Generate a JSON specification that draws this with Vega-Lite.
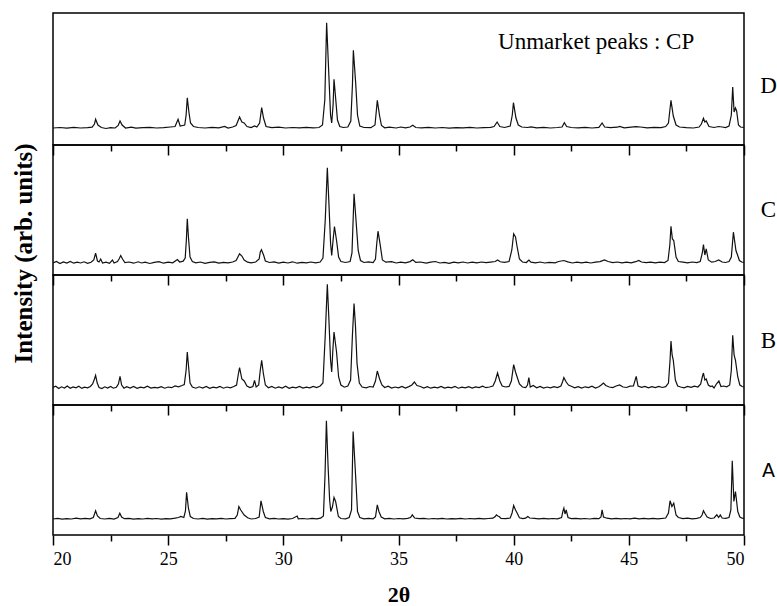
{
"$schema": "https://vega.github.io/schema/vega-lite/v6.json",
"background": "white",
"padding": {"left": 10, "top": 12, "right": 2, "bottom": 0},
"bounds": "flush",
"spacing": 0,
"config": {"view": {"stroke": "black", "strokeWidth": 1.5}, "axis": {"labelFont": "Liberation Serif", "titleFont": "Liberation Serif", "labelColor": "black", "titleColor": "black", "tickColor": "black", "grid": false, "domain": false}},
"datasets": {
"D": [[20.0,17],[20.3,17.5],[20.6,16.8],[20.9,17.6],[21.2,17],[21.5,17.4],[21.7,17.8],[21.8,21],[21.85,25.7],[21.95,20],[22.1,17.5],[22.3,16.5],[22.5,17.3],[22.7,17],[22.83,19.5],[22.91,24],[23.0,20],[23.15,17],[23.4,17.8],[23.6,16.8],[23.9,17.3],[24.2,17.6],[24.5,17],[24.8,17.4],[25.1,18],[25.3,18.5],[25.43,25.7],[25.52,19],[25.72,20],[25.78,30],[25.83,47.3],[25.9,33],[25.97,22],[26.1,18.5],[26.3,17.5],[26.6,17],[26.9,17.6],[27.2,17.1],[27.45,18.5],[27.6,17],[27.8,18],[27.95,19.5],[28.1,28],[28.2,23],[28.3,22],[28.42,18.5],[28.6,17.5],[28.75,19],[28.85,18],[28.97,22],[29.06,37.3],[29.14,27],[29.25,18.5],[29.5,17.3],[29.8,17.8],[30.1,17],[30.4,17.5],[30.7,17.1],[31.0,17.6],[31.3,17.2],[31.55,17.5],[31.7,20],[31.8,45],[31.88,122.3],[31.95,84],[32.05,30],[32.1,22],[32.16,40],[32.2,65.7],[32.27,47],[32.35,25],[32.45,18.5],[32.6,17.5],[32.8,18],[32.93,24],[33.0,60],[33.04,94.7],[33.14,62.3],[33.22,30],[33.32,19],[33.5,17.5],[33.8,17.3],[33.98,20],[34.08,44.7],[34.18,29],[34.26,19.5],[34.4,17.2],[34.6,17.8],[34.9,17],[35.1,18],[35.3,17.2],[35.5,18],[35.62,19.7],[35.75,17.5],[36.0,17.2],[36.3,17.6],[36.6,17],[36.9,17.5],[37.2,16.9],[37.5,17.4],[37.8,17.1],[38.1,17.6],[38.4,17],[38.7,17.3],[39.0,17.6],[39.15,18.5],[39.28,23],[39.4,18.5],[39.6,17.5],[39.85,19],[39.94,30],[39.99,42.3],[40.1,27],[40.2,20],[40.35,18],[40.6,17.5],[40.75,18.2],[41.0,17.2],[41.3,17.6],[41.6,17],[41.9,17.5],[42.1,18],[42.2,22.3],[42.3,18.5],[42.5,17.5],[42.8,17.2],[43.1,17.6],[43.4,17],[43.7,17.6],[43.84,22],[43.95,18],[44.2,17.4],[44.5,17.8],[44.6,18.5],[44.8,17.2],[45.0,17.6],[45.3,18.3],[45.5,18],[45.8,17.2],[46.1,17.6],[46.4,17.3],[46.6,18.5],[46.72,22],[46.83,44.7],[46.93,29],[47.05,20],[47.2,18],[47.5,17.4],[47.8,17],[48.05,18],[48.15,21],[48.24,26.7],[48.3,23],[48.36,24],[48.48,18.5],[48.7,17.5],[48.9,18.5],[49.05,18],[49.2,17.4],[49.35,19],[49.45,30],[49.51,58],[49.57,33],[49.63,37],[49.68,34],[49.76,20],[49.85,18],[50.0,17.5]],
"C": [[20.0,12],[20.15,13.5],[20.3,11.5],[20.45,13],[20.6,12],[20.75,13.5],[20.9,11.8],[21.05,12.8],[21.2,12],[21.35,13.2],[21.5,11.6],[21.65,12.8],[21.77,15],[21.85,21.8],[21.93,14],[22.0,13],[22.07,16],[22.15,12],[22.3,12.8],[22.45,11.7],[22.58,15],[22.65,12],[22.8,13.5],[22.88,16.5],[22.94,19.5],[23.02,16],[23.12,12.5],[23.3,13],[23.5,11.8],[23.7,13.2],[23.85,12],[24.0,12.8],[24.2,11.5],[24.4,12.6],[24.6,13.3],[24.8,11.8],[25.0,12.9],[25.2,12.2],[25.4,15.5],[25.5,13],[25.65,13.8],[25.74,17],[25.79,35],[25.83,56.2],[25.88,38],[25.95,18],[26.05,13.5],[26.2,12.2],[26.4,13],[26.6,11.7],[26.8,12.6],[27.0,13.2],[27.2,11.9],[27.4,12.6],[27.6,12.2],[27.8,13],[27.95,14.5],[28.05,19],[28.1,21.2],[28.2,19],[28.3,15],[28.45,12.8],[28.6,12.2],[28.8,13],[28.95,16],[29.0,23],[29.05,25.2],[29.15,19.5],[29.22,14],[29.4,12.5],[29.6,13.1],[29.8,11.9],[30.0,12.8],[30.2,12],[30.4,13.2],[30.6,11.8],[30.8,12.7],[31.0,12.1],[31.2,13],[31.4,12.2],[31.6,13],[31.72,17],[31.82,55],[31.91,107.2],[31.98,71.2],[32.05,32],[32.1,19.5],[32.16,35],[32.22,48.5],[32.31,34.5],[32.4,18],[32.5,13.5],[32.7,12.5],[32.9,13.5],[32.98,22],[33.03,55],[33.07,81.2],[33.14,59.5],[33.25,24.5],[33.35,14.5],[33.5,12.5],[33.7,13.2],[33.9,12.5],[34.0,16],[34.05,30],[34.11,43.8],[34.2,31.2],[34.3,15],[34.45,12.8],[34.7,13.3],[34.9,12],[35.1,12.8],[35.3,12.2],[35.5,13.4],[35.62,15.2],[35.75,12.6],[35.95,13],[36.2,11.8],[36.4,12.8],[36.6,13.5],[36.8,12],[37.0,12.6],[37.2,11.6],[37.4,12.9],[37.6,12.2],[37.8,13],[38.0,12],[38.2,12.8],[38.4,12.1],[38.6,13],[38.8,12.4],[39.0,12.9],[39.2,13.5],[39.3,15],[39.42,13.2],[39.6,12.6],[39.8,13.5],[39.92,25],[40.0,41.2],[40.08,38],[40.14,29.5],[40.25,16],[40.38,13],[40.55,12.5],[40.66,15],[40.75,12.8],[40.95,12.2],[41.15,13],[41.35,12],[41.55,12.7],[41.8,12.2],[41.95,13.5],[42.18,14.5],[42.35,13.2],[42.55,12],[42.75,12.9],[42.95,12.1],[43.15,12.8],[43.35,12],[43.55,12.9],[43.75,13.4],[43.94,15],[44.1,13.5],[44.3,12.4],[44.5,13],[44.7,12.2],[44.9,12.8],[45.1,12.1],[45.3,13.3],[45.43,14.5],[45.55,13],[45.75,12.3],[45.95,12.9],[46.15,12.1],[46.35,12.8],[46.55,12.4],[46.7,14.5],[46.78,30],[46.83,48.8],[46.89,36],[46.95,34.5],[47.05,18],[47.15,13.5],[47.35,12.8],[47.55,12.2],[47.75,13],[47.95,12.4],[48.1,13.5],[48.19,22],[48.24,30.5],[48.3,20],[48.36,26.2],[48.45,15],[48.6,12.8],[48.75,13.5],[48.9,15],[49.05,13],[49.2,12.5],[49.35,13.5],[49.45,18],[49.54,42.8],[49.6,33],[49.65,24.5],[49.72,20],[49.8,14.5],[49.9,13],[50.0,12.6]],
"B": [[20.0,17.5],[20.12,18.8],[20.25,16.5],[20.37,18.2],[20.5,17],[20.62,19],[20.75,16.8],[20.87,18],[21.0,17.2],[21.12,18.7],[21.25,16.6],[21.37,17.9],[21.5,17.2],[21.62,18.5],[21.72,21],[21.8,26],[21.85,29.7],[21.92,22],[22.0,17.5],[22.12,16.5],[22.25,18.2],[22.37,17],[22.5,18.6],[22.62,16.8],[22.75,17.8],[22.84,21],[22.91,28.7],[22.98,20],[23.08,16.8],[23.2,18.3],[23.35,17],[23.5,18.5],[23.65,16.7],[23.8,17.9],[23.95,17.2],[24.1,18.8],[24.25,16.9],[24.4,17.7],[24.55,17.1],[24.7,18.4],[24.85,16.8],[25.0,18],[25.15,17.3],[25.3,19],[25.45,18.2],[25.6,19.5],[25.7,20.5],[25.78,35],[25.83,53],[25.88,40],[25.95,22],[26.05,18],[26.2,16.8],[26.35,18.2],[26.5,17],[26.65,18.6],[26.8,16.7],[26.95,17.9],[27.1,17.1],[27.25,18.5],[27.4,16.8],[27.55,18],[27.7,17.2],[27.85,18.5],[27.97,20],[28.04,30],[28.1,37.4],[28.2,26],[28.3,24],[28.42,19],[28.55,17.5],[28.68,18.5],[28.75,24.7],[28.82,18],[28.93,20],[29.0,35],[29.06,44.7],[29.13,32],[29.22,20],[29.35,17.2],[29.5,18.6],[29.65,16.8],[29.8,18],[29.95,17],[30.1,18.7],[30.25,16.7],[30.4,17.9],[30.55,17.2],[30.7,18.5],[30.85,16.9],[31.0,17.8],[31.15,17.1],[31.3,18.6],[31.45,17.5],[31.6,19],[31.72,22],[31.82,70],[31.91,120.7],[31.98,84.7],[32.05,45],[32.1,33],[32.15,55],[32.2,73],[32.31,53],[32.4,28],[32.5,20],[32.65,17.8],[32.8,19],[32.92,25],[33.0,70],[33.07,101.4],[33.13,80],[33.2,41.4],[33.3,22],[33.42,18],[33.6,17.2],[33.75,18.5],[33.9,18],[34.0,24],[34.08,34],[34.18,26],[34.28,20],[34.4,17.5],[34.55,18.8],[34.7,16.9],[34.85,18],[35.0,17.2],[35.15,18.6],[35.3,17],[35.45,18.4],[35.58,20],[35.69,23],[35.8,19.5],[35.95,18.5],[36.1,17],[36.25,18.3],[36.4,16.8],[36.55,17.8],[36.7,17.1],[36.85,18.6],[37.0,16.9],[37.15,17.8],[37.3,17.2],[37.45,18.5],[37.6,16.8],[37.75,17.9],[37.9,17.2],[38.05,18.4],[38.2,17],[38.35,18.1],[38.5,17.4],[38.65,18.8],[38.8,17.3],[38.95,18],[39.1,19],[39.2,24],[39.3,32],[39.4,24],[39.5,19],[39.65,18],[39.8,18.6],[39.9,24],[40.0,40.4],[40.08,33],[40.14,28.7],[40.25,21],[40.38,18],[40.52,17.5],[40.6,20],[40.66,27.4],[40.72,18],[40.85,19.5],[41.0,17.2],[41.15,18.5],[41.3,17],[41.45,18],[41.6,17.2],[41.75,18.3],[41.9,17.5],[42.05,19],[42.12,23],[42.18,27.4],[42.28,23],[42.38,20],[42.5,18.8],[42.65,17.2],[42.8,18.4],[42.95,17],[43.1,18.2],[43.25,17.4],[43.4,18.8],[43.55,17],[43.7,18.2],[43.8,20],[43.9,22],[44.0,19.5],[44.15,18],[44.3,17.4],[44.45,19],[44.6,20],[44.75,18],[44.9,17.5],[45.05,18.8],[45.2,19],[45.32,28.7],[45.4,19],[45.55,17.6],[45.7,18.5],[45.85,17.2],[46.0,18.3],[46.15,17.4],[46.3,18.6],[46.45,17.5],[46.6,18.3],[46.72,22],[46.79,45],[46.83,64],[46.88,50],[46.93,44.7],[47.02,25],[47.12,19],[47.25,18],[47.4,17.2],[47.55,18.5],[47.7,17.6],[47.85,18.8],[48.0,18],[48.12,21],[48.2,29],[48.24,32],[48.3,25],[48.36,26],[48.45,20],[48.55,18.5],[48.62,19],[48.7,17],[48.8,21],[48.91,24],[49.0,18.5],[49.12,19],[49.25,18.2],[49.38,20],[49.45,35],[49.51,69.7],[49.57,50],[49.63,44.7],[49.73,28],[49.82,20],[49.92,18.5],[50.0,18]],
"A": [[20.0,16],[20.2,16.6],[20.4,15.8],[20.6,16.4],[20.8,16],[21.0,16.8],[21.2,16.2],[21.4,16.6],[21.6,16.1],[21.75,17.5],[21.85,24.2],[21.93,19],[22.05,16.5],[22.25,16],[22.45,16.6],[22.65,15.9],[22.82,17.5],[22.9,21.8],[22.98,18],[23.1,16.3],[23.3,16.7],[23.5,15.9],[23.7,16.4],[23.9,16],[24.1,16.6],[24.3,16.1],[24.5,16.5],[24.7,15.9],[24.9,16.4],[25.1,16.2],[25.3,16.8],[25.45,17.5],[25.55,18.5],[25.68,17.5],[25.75,24],[25.8,42.8],[25.88,26.8],[25.96,18.5],[26.1,16.5],[26.3,16],[26.5,16.6],[26.7,15.9],[26.9,16.4],[27.1,16.1],[27.3,16.7],[27.5,16],[27.7,16.4],[27.9,16.6],[28.0,20],[28.07,28.5],[28.15,25],[28.3,20],[28.45,17.2],[28.6,16],[28.8,16.5],[28.95,18],[29.03,34.2],[29.13,23.5],[29.22,17.5],[29.4,16.2],[29.6,16.7],[29.8,16],[30.0,16.4],[30.2,15.9],[30.4,16.5],[30.6,19],[30.65,16.2],[30.85,16.5],[31.05,16],[31.25,16.6],[31.45,16.2],[31.62,16.8],[31.74,19],[31.81,60],[31.87,114.2],[31.94,70.2],[32.01,35],[32.06,23.5],[32.13,28],[32.2,37.5],[32.27,33.5],[32.39,18.5],[32.5,16.5],[32.7,16.2],[32.86,17.5],[32.96,25],[33.03,103.5],[33.12,66.8],[33.22,23.5],[33.32,17.5],[33.5,16.2],[33.7,16.6],[33.9,16.2],[34.0,18],[34.08,30.2],[34.15,23.5],[34.25,18],[34.4,16.2],[34.6,16.6],[34.8,16],[35.0,16.5],[35.2,16.1],[35.4,16.6],[35.52,17.5],[35.6,20.2],[35.7,17],[35.9,16.3],[36.1,16.6],[36.3,16],[36.5,16.5],[36.7,16.1],[36.9,16.6],[37.1,16],[37.3,16.4],[37.5,16.2],[37.7,16.7],[37.9,16],[38.1,16.5],[38.3,16.2],[38.5,16.7],[38.7,16.1],[38.9,16.5],[39.1,16.8],[39.2,18.5],[39.25,20.2],[39.31,19],[39.37,18.5],[39.45,16.6],[39.65,16.3],[39.85,17],[39.93,22],[40.0,29.5],[40.08,25],[40.15,22],[40.25,17.2],[40.4,16.4],[40.52,16.8],[40.61,18.5],[40.7,17],[40.9,16.6],[41.1,16.2],[41.3,16.6],[41.5,16.1],[41.7,16.5],[41.9,16.2],[42.08,17.5],[42.14,24],[42.18,26.8],[42.23,21],[42.28,25.2],[42.36,17.5],[42.5,16.4],[42.7,16.7],[42.9,16.1],[43.1,16.5],[43.3,16],[43.5,16.6],[43.7,16.3],[43.79,18],[43.84,25.2],[43.9,18],[44.05,16.8],[44.25,16.2],[44.45,16.6],[44.65,16.1],[44.85,16.5],[45.05,16.2],[45.25,16.8],[45.45,16.1],[45.65,16.6],[45.85,16.2],[46.05,16.7],[46.25,16.2],[46.45,16.6],[46.6,17],[46.72,22],[46.79,34.2],[46.87,28.5],[46.95,31.8],[47.05,20],[47.15,17.5],[47.35,16.4],[47.55,16.8],[47.75,16.2],[47.95,16.6],[48.1,17.5],[48.18,20],[48.24,24.2],[48.3,21.8],[48.4,18],[48.55,16.5],[48.7,17],[48.82,20.2],[48.9,17.5],[48.97,20],[49.05,17],[49.2,16.6],[49.35,17.5],[49.43,25],[49.49,74.2],[49.56,33.5],[49.63,43.5],[49.73,23.5],[49.82,18],[49.92,16.8],[50.0,16.5]],
"note": [{"t": 43.58, "i": 96.3, "txt": "Unmarket peaks : CP"}]
},
"vconcat": [
{
"width": 691, "height": 132,
"layer": [
{
"data": {"name": "D"},
"transform": [{"calculate": "datum[0]", "as": "t"}, {"calculate": "datum[1]", "as": "i"}],
"mark": {"type": "line", "color": "#111", "strokeWidth": 1.2, "clip": true},
"encoding": {
"x": {"field": "t", "type": "quantitative", "scale": {"domain": [20, 50], "nice": false, "zero": false},
"axis": {"values": [20, 25, 30, 35, 40, 45, 50], "labels": false, "title": null, "tickWidth": 1.5, "tickSize": 10}},
"y": {"field": "i", "type": "quantitative", "scale": {"domain": [0, 132], "nice": false, "zero": false},
"axis": {"orient": "right", "labels": false, "ticks": false, "title": "D", "titleAngle": 0, "titleAlign": "center", "titleBaseline": "middle", "titleX": 24, "titleY": 72, "titleFontSize": 23, "titleFontWeight": "normal"}}
}
},
{
"data": {"name": "D"},
"transform": [{"calculate": "datum[0]", "as": "t"}, {"calculate": "datum[1]", "as": "i"}],
"mark": {"type": "line", "opacity": 0},
"encoding": {
"x": {"field": "t", "type": "quantitative", "axis": {"values": [22.5, 27.5, 32.5, 37.5, 42.5, 47.5], "labels": false, "title": null, "tickWidth": 1.5, "tickSize": 6, "orient": "bottom"}},
"y": {"field": "i", "type": "quantitative", "axis": null}
}
},
{
"data": {"name": "note"},
"mark": {"type": "text", "font": "Liberation Serif", "fontSize": 23, "align": "center", "baseline": "alphabetic", "color": "black"},
"encoding": {
"x": {"field": "t", "type": "quantitative", "axis": null},
"y": {"field": "i", "type": "quantitative", "axis": null},
"text": {"field": "txt"}
}
}
],
"resolve": {"axis": {"x": "independent", "y": "independent"}}
},
{
"width": 691, "height": 130,
"data": {"name": "C"},
"transform": [{"calculate": "datum[0]", "as": "t"}, {"calculate": "datum[1]", "as": "i"}],
"layer": [
{
"mark": {"type": "line", "color": "#111", "strokeWidth": 1.2, "clip": true},
"encoding": {
"x": {"field": "t", "type": "quantitative", "scale": {"domain": [20, 50], "nice": false, "zero": false},
"axis": {"values": [20, 25, 30, 35, 40, 45, 50], "labels": false, "title": null, "tickWidth": 1.5, "tickSize": 10}},
"y": {"field": "i", "type": "quantitative", "scale": {"domain": [0, 130], "nice": false, "zero": false},
"axis": {"orient": "right", "labels": false, "ticks": false, "title": "C", "titleAngle": 0, "titleAlign": "center", "titleBaseline": "middle", "titleX": 24, "titleY": 64, "titleFontSize": 23, "titleFontWeight": "normal"}}
}
},
{
"mark": {"type": "line", "opacity": 0},
"encoding": {
"x": {"field": "t", "type": "quantitative", "axis": {"values": [22.5, 27.5, 32.5, 37.5, 42.5, 47.5], "labels": false, "title": null, "tickWidth": 1.5, "tickSize": 6, "orient": "bottom"}},
"y": {"field": "i", "type": "quantitative",
"axis": {"orient": "left", "labels": false, "ticks": false, "title": "Intensity (arb. units)", "titleAngle": -90, "titleAlign": "center", "titleBaseline": "middle", "titleX": -30, "titleY": 108, "titleFontSize": 25, "titleFontWeight": "bold"}}
}
}
],
"resolve": {"axis": {"x": "independent", "y": "independent"}}
},
{
"width": 691, "height": 130,
"data": {"name": "B"},
"transform": [{"calculate": "datum[0]", "as": "t"}, {"calculate": "datum[1]", "as": "i"}],
"layer": [
{
"mark": {"type": "line", "color": "#111", "strokeWidth": 1.2, "clip": true},
"encoding": {
"x": {"field": "t", "type": "quantitative", "scale": {"domain": [20, 50], "nice": false, "zero": false},
"axis": {"values": [20, 25, 30, 35, 40, 45, 50], "labels": false, "title": null, "tickWidth": 1.5, "tickSize": 10}},
"y": {"field": "i", "type": "quantitative", "scale": {"domain": [0, 130], "nice": false, "zero": false},
"axis": {"orient": "right", "labels": false, "ticks": false, "title": "B", "titleAngle": 0, "titleAlign": "center", "titleBaseline": "middle", "titleX": 24, "titleY": 65, "titleFontSize": 23, "titleFontWeight": "normal"}}
}
},
{
"mark": {"type": "line", "opacity": 0},
"encoding": {
"x": {"field": "t", "type": "quantitative", "axis": {"values": [22.5, 27.5, 32.5, 37.5, 42.5, 47.5], "labels": false, "title": null, "tickWidth": 1.5, "tickSize": 6, "orient": "bottom"}},
"y": {"field": "i", "type": "quantitative", "axis": null}
}
}
],
"resolve": {"axis": {"x": "independent", "y": "independent"}}
},
{
"width": 691, "height": 130,
"data": {"name": "A"},
"transform": [{"calculate": "datum[0]", "as": "t"}, {"calculate": "datum[1]", "as": "i"}],
"layer": [
{
"mark": {"type": "line", "color": "#111", "strokeWidth": 1.2, "clip": true},
"encoding": {
"x": {"field": "t", "type": "quantitative", "scale": {"domain": [20, 50], "nice": false, "zero": false},
"axis": {"values": [20, 25, 30, 35, 40, 45, 50], "labelFont": "Liberation Serif", "labelFontSize": 18, "labelPadding": 5, "title": "2θ", "titleFontSize": 22, "titleFontWeight": "bold", "titlePadding": 16, "tickWidth": 1.5, "tickSize": 10}},
"y": {"field": "i", "type": "quantitative", "scale": {"domain": [0, 130], "nice": false, "zero": false},
"axis": {"orient": "right", "labels": false, "ticks": false, "title": "A", "titleAngle": 0, "titleAlign": "center", "titleBaseline": "middle", "titleX": 24, "titleY": 65, "titleFont": "DejaVu Sans", "titleFontSize": 19, "titleFontWeight": "normal"}}
}
},
{
"mark": {"type": "line", "opacity": 0},
"encoding": {
"x": {"field": "t", "type": "quantitative", "axis": {"values": [22.5, 27.5, 32.5, 37.5, 42.5, 47.5], "labels": false, "title": null, "tickWidth": 1.5, "tickSize": 6, "orient": "bottom"}},
"y": {"field": "i", "type": "quantitative", "axis": null}
}
}
],
"resolve": {"axis": {"x": "independent", "y": "independent"}}
}
]
}
